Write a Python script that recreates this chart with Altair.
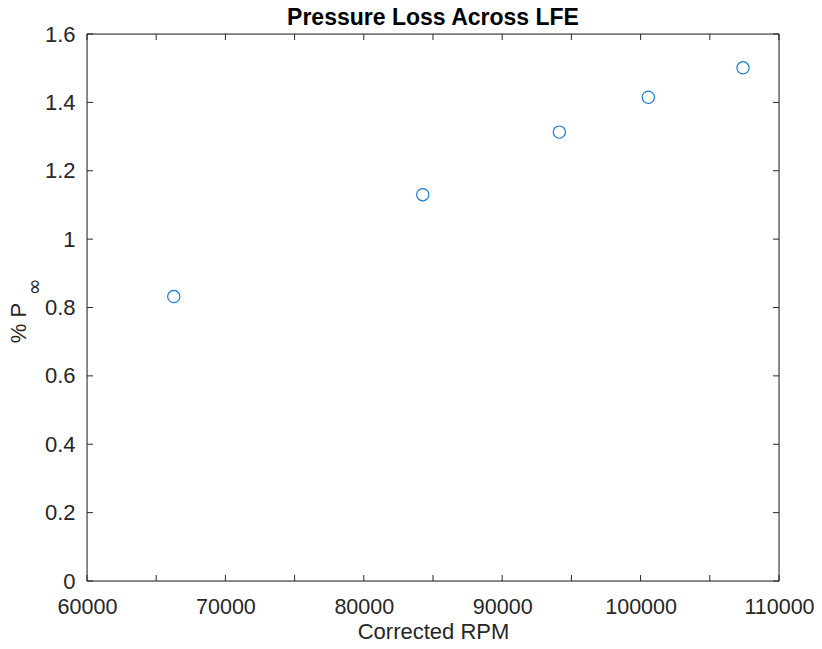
import altair as alt
import pandas as pd

# Data
rpm = [66270, 84260, 94130, 100560, 107400]
loss = [0.832, 1.130, 1.313, 1.415, 1.501]

x_tick_values = [60000, 65000, 70000, 75000, 80000, 85000, 90000, 95000, 100000, 105000, 110000]
x_label_values = [60000, 70000, 80000, 90000, 100000, 110000]
y_tick_values = [0, 0.2, 0.4, 0.6, 0.8, 1.0, 1.2, 1.4, 1.6]

W, H = 692, 547
FONT = "Liberation Sans"
AX = "#262626"
BLUE = "#1a7cc6"

df = pd.DataFrame({"rpm": rpm, "loss": loss})
xt = pd.DataFrame({"v": x_tick_values})
yt = pd.DataFrame({"v": y_tick_values})
one = pd.DataFrame({"t": ["Pressure Loss Across LFE"], "yl": ["% P"], "sub": ["∞"]})

xscale = alt.Scale(domain=[60000, 110000], nice=False, zero=False)
yscale = alt.Scale(domain=[0, 1.6], nice=False, zero=True)

xaxis = alt.Axis(values=x_label_values, format="d", ticks=False, domain=False, grid=False,
                 labelFlush=False, labelOverlap=False,
                 labelFont=FONT, labelFontSize=21.5, labelColor=AX, labelPadding=15,
                 title="Corrected RPM", titleFont=FONT, titleFontSize=22, titleColor=AX,
                 titleFontWeight="normal", titlePadding=4)
yaxis = alt.Axis(values=y_tick_values, format="~g", ticks=False, domain=False, grid=False,
                 labelFlush=False, labelOverlap=False,
                 labelFont=FONT, labelFontSize=22, labelColor=AX, labelPadding=12,
                 title=None)

points = alt.Chart(df).mark_point(shape="circle", filled=False, size=150, color=BLUE,
                                  strokeWidth=1.2, opacity=1).encode(
    x=alt.X("rpm:Q", scale=xscale, axis=xaxis),
    y=alt.Y("loss:Q", scale=yscale, axis=yaxis),
)

frame = alt.Chart(one).mark_rect(fill=None, stroke=AX, strokeWidth=1).encode(
    x=alt.value(0), x2=alt.value(W), y=alt.value(0), y2=alt.value(H))

bx = alt.Chart(xt).mark_rule(color=AX, strokeWidth=1).encode(
    x=alt.X("v:Q", scale=xscale), y=alt.value(H), y2=alt.value(H - 6))
tx = alt.Chart(xt).mark_rule(color=AX, strokeWidth=1).encode(
    x=alt.X("v:Q", scale=xscale), y=alt.value(0), y2=alt.value(6))
ly = alt.Chart(yt).mark_rule(color=AX, strokeWidth=1).encode(
    y=alt.Y("v:Q", scale=yscale), x=alt.value(0), x2=alt.value(6))
ry = alt.Chart(yt).mark_rule(color=AX, strokeWidth=1).encode(
    y=alt.Y("v:Q", scale=yscale), x=alt.value(W), x2=alt.value(W - 6))

title = alt.Chart(one).mark_text(font=FONT, fontSize=23, fontWeight="bold", color="#000000",
                                 align="center", baseline="alphabetic").encode(
    text="t:N", x=alt.value(W / 2), y=alt.value(-9))
ytitle = alt.Chart(one).mark_text(font=FONT, fontSize=22, color=AX, angle=270,
                                  align="center", baseline="middle").encode(
    text="yl:N", x=alt.value(-68), y=alt.value(289))
ytitle_sub = alt.Chart(one).mark_text(font="DejaVu Sans", fontSize=20, color=AX, angle=270,
                                      align="center", baseline="middle").encode(
    text="sub:N", x=alt.value(-52), y=alt.value(253))

chart = alt.layer(points, frame, bx, tx, ly, ry, title, ytitle, ytitle_sub).properties(
    width=W, height=H,
    autosize=alt.AutoSizeParams(type="none"),
    padding={"left": 79, "top": 26, "right": 35, "bottom": 60},
).configure_view(strokeWidth=0).configure(background="white")

chart.save("out.html", embed_options={"renderer": "svg", "actions": False})
